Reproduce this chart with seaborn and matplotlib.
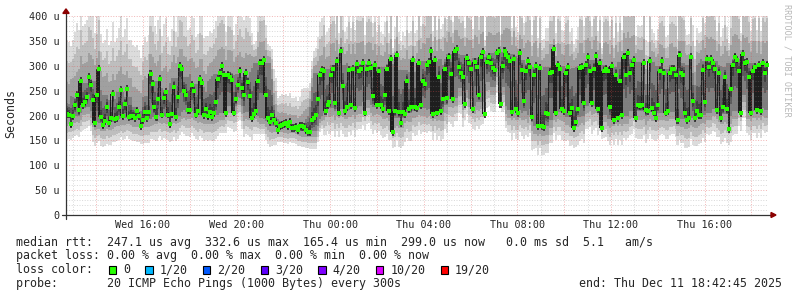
import numpy as np
import pandas as pd
import matplotlib
matplotlib.use("Agg")
import matplotlib.pyplot as plt
from matplotlib.patches import Polygon, Rectangle
import seaborn as sns

# ---------------- data (microseconds) ----------------
median_part1 = [204,202,182,198,221,241,211,270,222,227,237,277,262,231,185,241,293,197,180,189,
                217,185,195,243,193,194,218,251,198,223,253,197,198,198,194,210,199,179,190,207,
                195,207,283,263,217,197,233,274,202,235,247,202,182,203,257,197,237,299,294]
median_part2 = [250,242,211,211,261,249,202,209,273,266,201,214,198,207,197,205,227,273,285,299,
                281,205,282,278,271,206,233,262,290,255,242,285,267,239,194,203,210,270,306,306,
                311,242,194,187,201,191,185,171,178,181,182,185,178,187,175,175,177,170,179]
median_part3 = [178,177,170,166,166,191,195,201,234,281,291,290,210,221,227,282,294,226,310,206,
                330,259,209,217,291,222,294,215,303,290,293,305,206,293,306,295,239,301,222,289,
                221,213,241,293,210,314,166,210,322,207,185,207,203,270,213,218,311,217,215,305]
median_part4 = [221,270,263,301,307,329,203,311,206,277,209,233,294,235,318,283,234,330,333,298,
                285,278,223,315,306,294,214,307,297,242,318,327,203,307,317,306,295,291,326,329,
                223,299,330,321,317,309,207,313,214,205,326,291,229,290,309,297,197,282,299]
median_part5 = [178,295,178,177,206,203,286,287,333,206,301,293,213,209,286,297,206,215,174,186,
                214,295,297,225,301,317,289,226,293,319,213,306,175,289,294,289,218,299,191,282,
                195,269,201,318,281,325,286,301,311,194,221,219,222,305,211,209,309,215]
median_part6 = [206,194,221,290,309,286,206,210,285,293,294,281,190,322,286,281,206,191,195,318,
                230,194,209,201,201,291,227,314,297,314,305,293,211,285,194,217,278,213,173,253,
                301,318,311,290,205,323,305,307,278,206,290,297,211,302,209,305,286,302]

# hourly spread of the smoke below / above the dense core (us)
smoke_below_us = [42,44,42,46,46,48,46,48,38,30,32,50,50,52,52,50,52,52,50,52,
                  50,52,52,50,52,50,52,50,52,50]
smoke_above_us = [130,130,130,125,125,120,120,115,80,55,70,105,105,100,105,105,100,105,105,100,
                  105,105,100,105,105,100,105,100,105,105]

y_ticks = [0, 50, 100, 150, 200, 250, 300, 350, 400]
y_labels = ["0", "50 u", "100 u", "150 u", "200 u", "250 u", "300 u", "350 u", "400 u"]

start_time = pd.Timestamp("2025-12-10 12:42:45")
span_hours = 30
loss_labels = ["0", "1/20", "2/20", "3/20", "4/20", "10/20", "19/20"]
loss_colors = ["#26ff00", "#00b8ff", "#0059ff", "#5e00ff", "#7e00ff", "#dd00ff", "#ff0000"]

legend_rtt = "median rtt:  247.1 us avg  332.6 us max  165.4 us min  299.0 us now   0.0 ms sd  5.1   am/s"
legend_loss = "packet loss: 0.00 % avg  0.00 % max  0.00 % min  0.00 % now"
legend_probe = "probe:       20 ICMP Echo Pings (1000 Bytes) every 300s"
legend_end = "end: Thu Dec 11 18:42:45 2025"

# ---------------- figure ----------------
sns.set_style("white")
plt.rcParams["font.family"] = ["DejaVu Sans Mono", "DejaVu Sans"]

W, H = 797, 297
fig = plt.figure(figsize=(W / 100, H / 100), dpi=100)
fig.patch.set_facecolor("white")
L, R, T, B = 66, 768, 16, 215
ax = fig.add_axes([L / W, (H - B) / H, (R - L) / W, (B - T) / H])
ax.set_facecolor("white")

median = np.array(median_part1 + median_part2 + median_part3 + median_part4 + median_part5 + median_part6, float)
N = len(median)
step = span_hours / N
t = (np.arange(N) + 0.5) * step
hour = np.minimum(t.astype(int), span_hours - 1)

s = pd.Series(median)
core_lo = s.rolling(11, center=True, min_periods=1).quantile(0.15).to_numpy()
core_hi = s.rolling(11, center=True, min_periods=1).quantile(0.85).to_numpy()
center = (core_lo + core_hi) / 2
dev = median - center
below = np.array(smoke_below_us, float)[hour]
above = np.array(smoke_above_us, float)[hour]
bottom = core_lo - below + 0.12 * dev
top = core_hi + above + 0.8 * dev

# outer smoke bands: from envelope toward the dense core
outer = ["#dcdcdc", "#bebebe", "#a0a0a0"]
for k, g in enumerate(outer):
    f = k / len(outer)
    lo = bottom + (core_lo - bottom) * f
    hi = top - (top - core_hi) * f
    ax.bar(t, hi - lo, bottom=lo, width=step * 1.03, color=g, linewidth=0, zorder=1)

# inner bands: from the core toward the median of each step
inner = ["#7e7e7e", "#5c5c5c", "#3e3e3e"]
for k, g in enumerate(inner):
    gk = [0.0, 0.5, 0.85][k]
    lo = np.minimum(core_lo + (median - 8 - core_lo) * gk, median - 8)
    hi = np.maximum(core_hi - (core_hi - median - 8) * gk, median + 8)
    lo = np.where(median - 8 < core_lo, median - 8, lo)
    hi = np.where(median + 8 > core_hi, median + 8, hi)
    ax.bar(t, hi - lo, bottom=lo, width=step * 1.03, color=g, linewidth=0, zorder=1)

# dense core: jumps between consecutive medians
nxt = np.append(median[1:], median[-1])
jump = np.abs(nxt - median) > 40
c_lo = np.where(jump, np.minimum(median, nxt), median - 5)
c_hi = np.where(jump, np.maximum(median, nxt), median + 5)
ax.bar(t, c_hi - c_lo, bottom=c_lo, width=step * 0.75, color="#1e1e1e", linewidth=0, zorder=2)

# grid
maj_c = (0.87, 0.30, 0.30, 0.40)
min_c = (0.55, 0.55, 0.55, 0.32)
for v in range(10, 400, 10):
    if v % 50:
        ax.axhline(v, color=min_c, lw=0.72, ls=(0, (1, 1.6)), zorder=3)
for v in range(50, 401, 50):
    ax.axhline(v, color=maj_c, lw=0.72, ls=(0, (1, 1.6)), zorder=3)
first_hour = (start_time.ceil("h") - start_time) / pd.Timedelta(hours=1)
hh = first_hour
while hh < span_hours:
    clock = (start_time + pd.Timedelta(hours=hh)).hour
    col = maj_c if clock % 2 == 0 else min_c
    ax.axvline(hh, color=col, lw=0.72, ls=(0, (1, 1.6)), zorder=3)
    hh += 1

# medians
sns.scatterplot(x=t, y=median, marker="s", s=5.5, color=loss_colors[0], linewidth=0, ax=ax, zorder=5)

ax.set_xlim(0, span_hours)
ax.set_ylim(0, 400)
for sp in ax.spines.values():
    sp.set_visible(False)

tick_times = pd.date_range("2025-12-10 16:00", periods=7, freq="4h")
tick_pos = [(tt - start_time) / pd.Timedelta(hours=1) for tt in tick_times]
ax.set_xticks(tick_pos)
ax.set_xticklabels([tt.strftime("%a %H:%M") for tt in tick_times])
ax.set_yticks(y_ticks)
ax.set_yticklabels(y_labels)
ax.tick_params(axis="x", length=0, pad=3.3, labelsize=7.3)
ax.tick_params(axis="y", length=0, pad=4.8, labelsize=7.3)

# axes lines and arrows
axc = "#333333"
arc = "#8b0000"
ax.plot([0, 0], [-0.02, 1.016], transform=ax.transAxes, color=axc, lw=0.9, clip_on=False, zorder=6)
ax.plot([-0.0057, 1.004], [0, 0], transform=ax.transAxes, color=axc, lw=0.9, clip_on=False, zorder=6)
ax.add_patch(Polygon([[-0.0045, 1.013], [0.0045, 1.013], [0, 1.036]], closed=True,
                     transform=ax.transAxes, color=arc, clip_on=False, zorder=7))
ax.add_patch(Polygon([[1.0043, -0.0126], [1.0043, 0.0126], [1.0114, 0]], closed=True,
                     transform=ax.transAxes, color=arc, clip_on=False, zorder=7))

# texts
def px(x, y):
    return x / W, 1 - y / H

fig.text(*px(10.5, 114), "Seconds", rotation=90, ha="center", va="center", fontsize=8.4)
fig.text(*px(787.5, 60), "RRDTOOL / TOBI OETIKER", rotation=270, ha="center", va="center",
         fontsize=6.1, color="#b8b8b8")

fig.text(*px(16, 245.6), legend_rtt, ha="left", va="baseline", fontsize=8.4)
fig.text(*px(16, 259.4), legend_loss, ha="left", va="baseline", fontsize=8.4)
fig.text(*px(16, 273.4), "loss color:", ha="left", va="baseline", fontsize=8.4)
fig.text(*px(16, 287.4), legend_probe, ha="left", va="baseline", fontsize=8.4)
fig.text(*px(578.7, 287.4), legend_end, ha="left", va="baseline", fontsize=8.4)

bx = 108.7
for lab, colr in zip(loss_labels, loss_colors):
    fig.patches.append(Rectangle(px(bx, 273.5), 7.4 / W, 7.4 / H, transform=fig.transFigure,
                                 facecolor=colr, edgecolor="black", lw=0.8))
    fig.text(*px(bx + 14.3, 273.4), lab, ha="left", va="baseline", fontsize=8.4)
    bx += 14.3 + len(lab) * 7.02 + 15.3

fig.savefig("out.png", dpi=100, facecolor="white")
